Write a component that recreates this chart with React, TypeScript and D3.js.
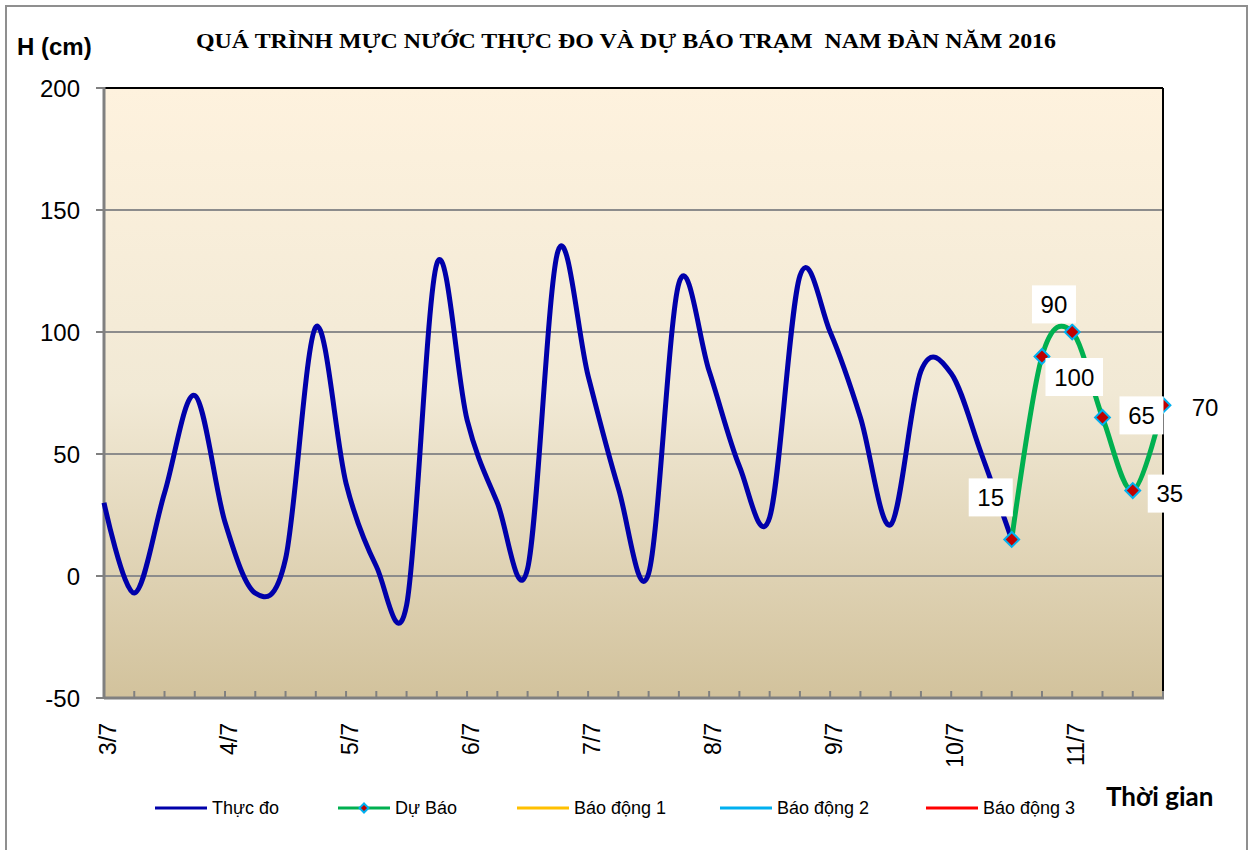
import * as d3 from "d3";

// day labels on the x axis, one every 4 readings (6-hourly)
const days = ["3/7", "4/7", "5/7", "6/7", "7/7", "8/7", "9/7", "10/7", "11/7"];
const perDay = 4;

// observed water level (cm), 6-hourly from 3/7
const thucDo = [
  30, -7, 34, 74, 22, -7, 7, 102, 38, 4, -12, 128, 64, 30, 3, 133, 82, 36, 1,
  120, 84, 45, 24, 123, 100, 65, 21, 84, 83, 50, 15,
];
// forecast, starting at the last observed point
const duBao = [15, 90, 100, 65, 35, 70];
const duBaoStart = thucDo.length - 1;
// labels printed beside the forecast markers
const duBaoLabels = ["15", "90", "100", "65", "35", "70"];

const yTicks = [-50, 0, 50, 100, 150, 200];

const legendItems = [
  { name: "Thực đo", color: "#0000aa", marker: false },
  { name: "Dự Báo", color: "#00b050", marker: true },
  { name: "Báo động 1", color: "#ffc000", marker: false },
  { name: "Báo động 2", color: "#00b0f0", marker: false },
  { name: "Báo động 3", color: "#ff0000", marker: false },
];

const W = 1253,
  H = 850;
const plot = { left: 104, right: 1163, top: 88, bottom: 698 };

const nPoints = duBaoStart + duBao.length;

const x = d3
  .scaleLinear()
  .domain([0, nPoints - 1])
  .range([plot.left, plot.right]);
const y = d3.scaleLinear().domain([-50, 200]).range([plot.bottom, plot.top]);

const line = d3
  .line<[number, number]>()
  .x((d) => x(d[0]))
  .y((d) => y(d[1]))
  .curve(d3.curveCatmullRom.alpha(0));

const obsPts: [number, number][] = thucDo.map((v, i) => [i, v]);
const fcPts: [number, number][] = duBao.map((v, i) => [duBaoStart + i, v]);

const diamond = d3.symbol(d3.symbolSquare, 110)();

// label box offsets relative to each forecast marker (layout only)
const labelOffsets = [
  [-21, -42],
  [12, -52],
  [2, 45],
  [39, -2],
  [37, 3],
  [42, 2],
];
const legendX = [155, 338, 517, 720, 926];

export default function App() {
  const font = "Arial, 'Liberation Sans', sans-serif";
  return (
    <svg
      width={W}
      height={H}
      style={{ position: "absolute", left: 0, top: 0, background: "#fff" }}
      fontFamily={font}
    >
      <defs>
        <linearGradient id="bg" x1="0" x2="0" y1="0" y2="1">
          <stop offset="0%" stopColor="#fef2de" />
          <stop offset="50%" stopColor="#f1e9d5" />
          <stop offset="100%" stopColor="#d2c29c" />
        </linearGradient>
        <clipPath id="clip">
          <rect x={0} y={plot.top} width={W} height={plot.bottom - plot.top} />
        </clipPath>
      </defs>
      {/* outer chart border */}
      <rect x={6} y={6} width={1241} height={870} fill="none" stroke="#8f8f8f" strokeWidth={2} />

      {/* plot area */}
      <rect
        x={plot.left}
        y={plot.top}
        width={plot.right - plot.left}
        height={plot.bottom - plot.top}
        fill="url(#bg)"
      />
      {yTicks.map((t) => (
        <line
          key={t}
          x1={plot.left}
          x2={plot.right}
          y1={y(t)}
          y2={y(t)}
          stroke="#8c8c8c"
          strokeWidth={2}
        />
      ))}
      <line x1={plot.left} x2={plot.right} y1={plot.top} y2={plot.top} stroke="#000" strokeWidth={2} />
      <line x1={plot.right} x2={plot.right} y1={plot.top} y2={plot.bottom} stroke="#000" strokeWidth={2} />
      <line x1={plot.left} x2={plot.left} y1={plot.top - 1} y2={plot.bottom + 1} stroke="#808080" strokeWidth={3} />
      <line x1={plot.left} x2={plot.right + 1} y1={plot.bottom} y2={plot.bottom} stroke="#808080" strokeWidth={3} />

      {/* y axis */}
      {yTicks.map((t) => (
        <g key={t}>
          <line x1={plot.left - 8} x2={plot.left} y1={y(t)} y2={y(t)} stroke="#808080" strokeWidth={2} />
          <text x={80} y={y(t)} dy="0.36em" textAnchor="end" fontSize={24}>
            {t}
          </text>
        </g>
      ))}

      {/* x axis ticks (inward) and day labels */}
      {d3.range(1, nPoints).map((i) => (
        <line
          key={i}
          x1={x(i)}
          x2={x(i)}
          y1={plot.bottom - 7}
          y2={plot.bottom}
          stroke="#808080"
          strokeWidth={2}
        />
      ))}
      {days.map((d, k) => (
        <text
          key={d}
          transform={`translate(${x(k * perDay) + 4},723) rotate(-90)`}
          dy="0.35em"
          textAnchor="end"
          fontSize={23}
        >
          {d}
        </text>
      ))}

      {/* series */}
      <g clipPath="url(#clip)">
        <path d={line(obsPts) ?? ""} fill="none" stroke="#0000aa" strokeWidth={5} strokeLinejoin="round" />
        <path d={line(fcPts) ?? ""} fill="none" stroke="#00b050" strokeWidth={5} strokeLinejoin="round" />
      </g>
      {fcPts.map(([i, v]) => (
        <path
          key={i}
          d={diamond ?? ""}
          transform={`translate(${x(i)},${y(v)}) rotate(45)`}
          fill="#c00000"
          stroke="#00b0f0"
          strokeWidth={2}
        />
      ))}
      {fcPts.map(([i, v], k) => {
        const cx = x(i) + labelOffsets[k][0];
        const cy = y(v) + labelOffsets[k][1];
        const lbl = duBaoLabels[k];
        const bw = lbl.length * 13.5 + 17;
        return (
          <g key={"l" + i}>
            <rect x={cx - bw / 2} y={cy - 19} width={bw} height={38} fill="#fff" />
            <text x={cx} y={cy} dy="0.36em" textAnchor="middle" fontSize={24}>
              {lbl}
            </text>
          </g>
        );
      })}

      {/* titles */}
      <text
        x={196}
        y={48}
        textLength={860}
        lengthAdjust="spacingAndGlyphs"
        fontFamily="'Liberation Serif', 'Times New Roman', serif"
        fontWeight="bold"
        fontSize={21}
        style={{ whiteSpace: "pre" }}
      >
        QUÁ TRÌNH MỰC NƯỚC THỰC ĐO VÀ DỰ BÁO TRẠM  NAM ĐÀN NĂM 2016
      </text>
      <text x={17} y={55} fontWeight="bold" fontSize={24}>
        H (cm)
      </text>
      <text x={1106} y={806} fontFamily="Lato, 'Open Sans', sans-serif" fontWeight="bold" fontSize={26}>
        Thời gian
      </text>

      {/* legend */}
      {legendItems.map((it, k) => (
        <g key={it.name} transform={`translate(${legendX[k]},808)`}>
          <line x1={0} x2={52} y1={0} y2={0} stroke={it.color} strokeWidth={3} />
          {it.marker && (
            <path
              d={d3.symbol(d3.symbolSquare, 40)() ?? ""}
              transform="translate(26,0) rotate(45)"
              fill="#c00000"
              stroke="#00b0f0"
              strokeWidth={2}
            />
          )}
          <text x={57} y={0} dy="0.36em" fontSize={18}>
            {it.name}
          </text>
        </g>
      ))}
    </svg>
  );
}
